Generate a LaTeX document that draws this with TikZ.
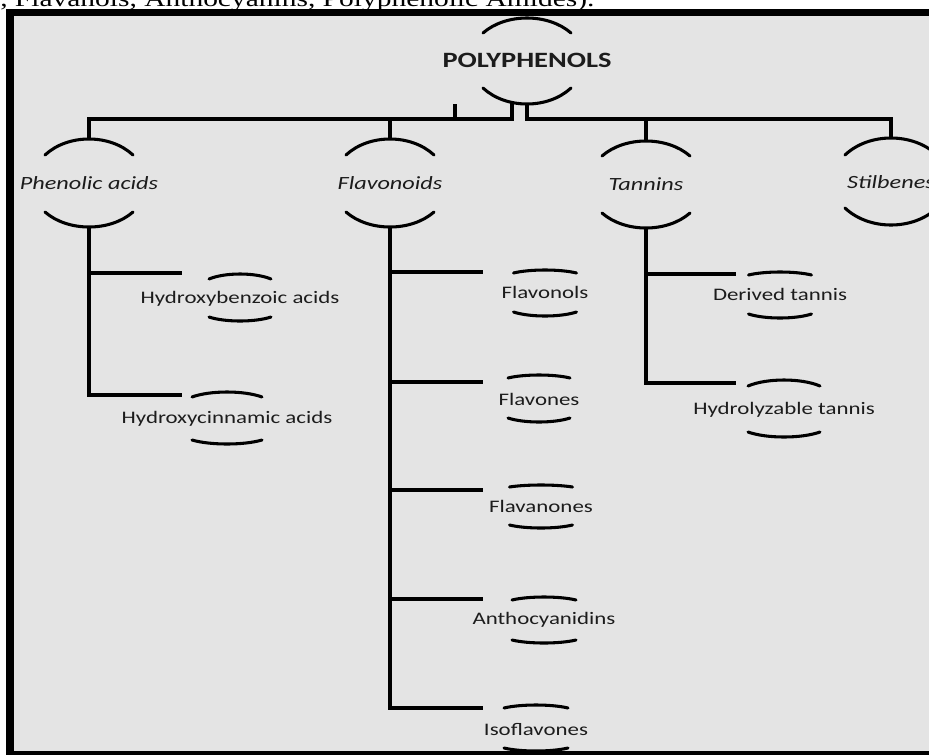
\documentclass[tikz,border=0pt]{standalone}
\usepackage{fontspec}
\newfontfamily\labfont{Carlito}
\newfontfamily\capfont{Liberation Serif}
\definecolor{bg}{RGB}{228,228,228}
\definecolor{ink}{RGB}{28,28,28}
\newcommand\wide[1]{\scalebox{1.3}[1]{#1}}
% #1 node, #2 half width, #3 top end, #4 top apex, #5 bottom end, #6 bottom apex (px)
\newcommand\brk[6]{%
  \begin{scope}[shift={(#1.center)}]
    \draw[arcline] (-#2,#3) .. controls ({-#2*0.48},{(8*#4-2*#3)/6}) and ({#2*0.48},{(8*#4-2*#3)/6}) .. (#2,#3);
    \draw[arcline] (-#2,-#5) .. controls ({-#2*0.48},{-(8*#6-2*#5)/6}) and ({#2*0.48},{-(8*#6-2*#5)/6}) .. (#2,-#5);
  \end{scope}}
\tikzset{
  link/.style={line width=3pt, line join=miter},
  arcline/.style={line width=2.3pt, line cap=round},
  mainlab/.style={inner sep=0pt, minimum width=66pt, minimum height=66pt, text=ink,
    font=\labfont\itshape\fontsize{14}{16}\selectfont},
  sublab/.style={inner sep=0pt, text=ink, font=\labfont\fontsize{13.2}{15}\selectfont},
}
\begin{document}
\begin{tikzpicture}[x=0.75pt,y=0.75pt]
\useasboundingbox (0,0) rectangle (929,-754);
\fill[white] (0,0) rectangle (929,-754);
\fill[bg] (10,-12.5) rectangle (935,-754);
\node[anchor=base west, inner sep=0pt, font=\capfont\fontsize{17}{20}\selectfont] (cap) at (0,-6)
  {\wide{, Flavanols, Anthocyanins, Polyphenolic Amides).}};

% main nodes
\node[mainlab, font=\labfont\bfseries\fontsize{16.4}{18}\selectfont] (poly) at (527,-60) {\wide{POLYPHENOLS}};
\node[mainlab] (phen) at (89,-183) {\wide{Phenolic acids}};
\node[mainlab] (flav) at (390,-183) {\wide{Flavonoids}};
\node[mainlab] (tann) at (646,-184) {\wide{Tannins}};
\node[mainlab] (stil) at (891,-182) {\wide{Stilbenes}};

% sub nodes
\node[sublab] (hb) at (240,-299) {\wide{Hydroxybenzoic acids}};
\node[sublab] (hc) at (227,-419) {\wide{Hydroxycinnamic acids}};
\node[sublab] (fo) at (545,-292) {\wide{Flavonols}};
\node[sublab] (fe) at (539,-399) {\wide{Flavones}};
\node[sublab] (fa) at (541,-506) {\wide{Flavanones}};
\node[sublab] (an) at (544,-620) {\wide{Anthocyanidins}};
\node[sublab] (is) at (536,-729) {\wide{Isoflavones}};
\node[sublab] (dt) at (780,-294) {\wide{Derived tannis}};
\node[sublab] (ht) at (784,-410) {\wide{Hydrolyzable tannis}};

% arcs
\brk{poly}{44}{27}{42}{28}{44}
\brk{phen}{44}{28}{44}{29}{44}
\brk{flav}{44}{28}{44}{29}{44}
\brk{tann}{44}{28}{43}{29}{44}
\brk{stil}{46}{27}{44}{26}{43}
\brk{hb}{31}{20}{25}{18}{22}
\brk{hc}{35}{22}{27}{21}{25}
\brk{fo}{31.5}{19}{22}{20}{24}
\brk{fe}{31}{21}{24}{19}{23}
\brk{fa}{31.5}{19}{21}{19}{22}
\brk{an}{32}{20}{23}{20}{23}
\brk{is}{32}{21}{24}{19}{22}
\brk{dt}{31.5}{19}{22}{20}{24}
\brk{ht}{36}{24}{30}{22}{27}

% top connectors
\coordinate (busL) at (512,-119);
\coordinate (busR) at (527,-119);
\coordinate (polyL) at (512,-102);
\coordinate (stub) at (455,-104);
\draw[link] (polyL) -- (busL) -| (phen.north);
\draw[link] (busL) -| (flav.north);
\draw[link] (poly.south) -- (busR) -| (stil.north);
\draw[link] (busR) -| (tann.north);
\draw[link] (stub) -- (stub |- busL);

% branch ends
\coordinate (hb-in) at (182,-273);
\coordinate (hc-in) at (182,-395);
\coordinate (fo-in) at (483,-272);
\coordinate (fe-in) at (483,-382);
\coordinate (fa-in) at (483,-490);
\coordinate (an-in) at (483,-599);
\coordinate (is-in) at (483,-708);
\coordinate (dt-in) at (736,-274);
\coordinate (ht-in) at (736,-383);

\draw[link] (phen.south) |- (hb-in);
\draw[link] (phen.south) |- (hc-in);
\draw[link] (flav.south) |- (fo-in);
\draw[link] (flav.south) |- (fe-in);
\draw[link] (flav.south) |- (fa-in);
\draw[link] (flav.south) |- (an-in);
\draw[link] (flav.south) |- (is-in);
\draw[link] (tann.south) |- (dt-in);
\draw[link] (tann.south) |- (ht-in);

% frame
\draw[line width=6pt] (10,-756) -- (10,-12.5);
\draw[line width=5.3pt] (6,-12.5) -- (935,-12.5);
\draw[line width=3pt] (6,-752.5) -- (935,-752.5);
\end{tikzpicture}
\end{document}
